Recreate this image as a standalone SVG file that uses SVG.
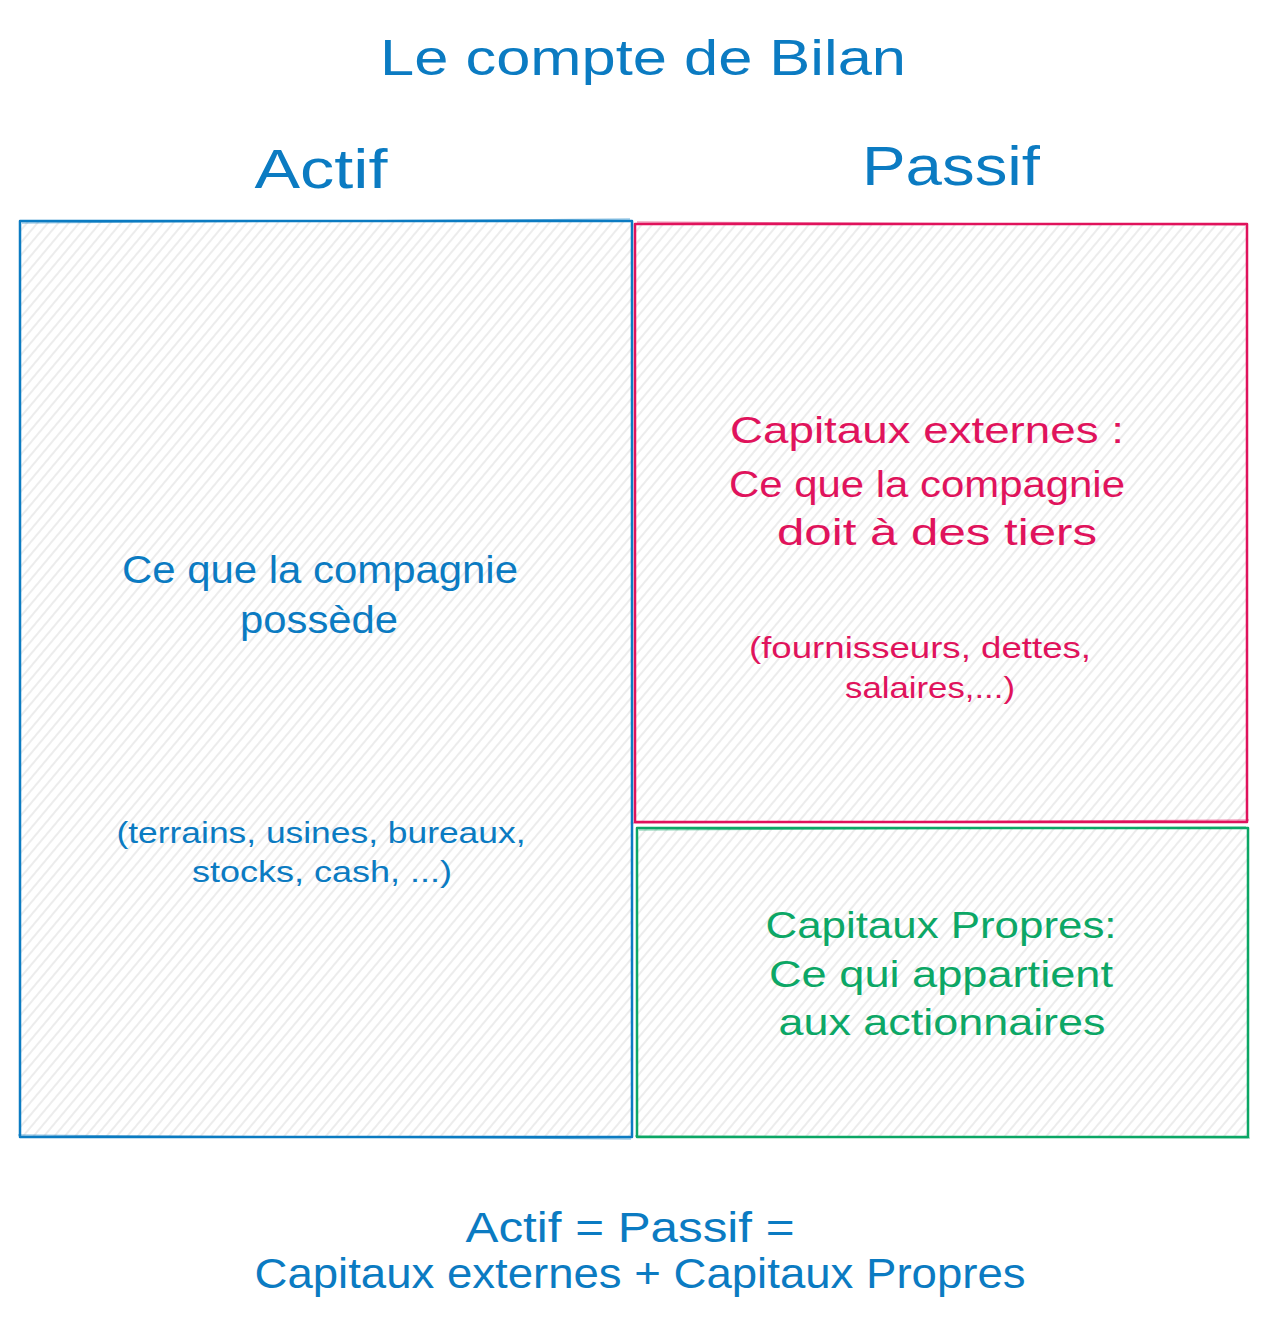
<svg xmlns="http://www.w3.org/2000/svg" width="1269" height="1324" viewBox="0 0 1269 1324">
<defs>
<pattern id="hatch" patternUnits="userSpaceOnUse" width="8" height="8" patternTransform="rotate(40)">
<line x1="4" y1="0" x2="4" y2="8" stroke="#e6e6e6" stroke-width="1.5"/>
</pattern>
</defs>
<style>
text{font-family:"Liberation Sans","Noto Sans",sans-serif;text-anchor:middle}
.blue{fill:#0b7bc2}
.red{fill:#e0135c}
.green{fill:#0ca766}
.box{fill:url(#hatch);stroke-width:2.5;stroke-linejoin:round}
.sk{fill:none;stroke-width:1.2;opacity:.6}
</style>
<rect width="1269" height="1324" fill="#ffffff"/>
<g id="title">
<text class="blue" x="643" y="75" font-size="50" textLength="526" lengthAdjust="spacingAndGlyphs">Le compte de Bilan</text>
</g>
<g id="label-actif">
<text class="blue" x="321" y="188" font-size="56" textLength="133" lengthAdjust="spacingAndGlyphs">Actif</text>
</g>
<g id="label-passif">
<text class="blue" x="951" y="185" font-size="56" textLength="178" lengthAdjust="spacingAndGlyphs">Passif</text>
</g>
<g id="actif">
<rect class="box" x="20" y="221" width="612" height="916" stroke="#0b7bc2"/>
<path class="sk" stroke="#0b7bc2" d="M22 223 L630 219 M18 1135 L631 1139"/>
<text class="blue" x="320" y="583" font-size="38" textLength="396" lengthAdjust="spacingAndGlyphs">Ce que la compagnie</text>
<text class="blue" x="319" y="633" font-size="38" textLength="158" lengthAdjust="spacingAndGlyphs">possède</text>
<text class="blue" x="321" y="843" font-size="29" textLength="409" lengthAdjust="spacingAndGlyphs">(terrains, usines, bureaux,</text>
<text class="blue" x="322" y="882" font-size="29" textLength="260" lengthAdjust="spacingAndGlyphs">stocks, cash, ...)</text>
</g>
<g id="capitaux-externes">
<rect class="box" x="635" y="224" width="612" height="598" stroke="#e0135c"/>
<path class="sk" stroke="#e0135c" d="M637 222 L1245 225 M633 823 L1249 820"/>
<text class="red" x="927" y="443" font-size="37" textLength="394" lengthAdjust="spacingAndGlyphs">Capitaux externes :</text>
<text class="red" x="927" y="497" font-size="37" textLength="396" lengthAdjust="spacingAndGlyphs">Ce que la compagnie</text>
<text class="red" x="937" y="545" font-size="37" textLength="320" lengthAdjust="spacingAndGlyphs">doit à des tiers</text>
<text class="red" x="920" y="658" font-size="29" textLength="342" lengthAdjust="spacingAndGlyphs">(fournisseurs, dettes,</text>
<text class="red" x="930" y="698" font-size="29" textLength="170" lengthAdjust="spacingAndGlyphs">salaires,...)</text>
</g>
<g id="capitaux-propres">
<rect class="box" x="637" y="828" width="611" height="309" stroke="#0ca766"/>
<path class="sk" stroke="#0ca766" d="M639 830 L1246 827 M635 1136 L1250 1138"/>
<text class="green" x="941" y="938" font-size="37" textLength="351" lengthAdjust="spacingAndGlyphs">Capitaux Propres:</text>
<text class="green" x="941" y="987" font-size="37" textLength="344" lengthAdjust="spacingAndGlyphs">Ce qui appartient</text>
<text class="green" x="942" y="1035" font-size="37" textLength="327" lengthAdjust="spacingAndGlyphs">aux actionnaires</text>
</g>
<g id="equation">
<text class="blue" x="630" y="1242" font-size="42" textLength="329" lengthAdjust="spacingAndGlyphs">Actif = Passif =</text>
<text class="blue" x="640" y="1288" font-size="42" textLength="771" lengthAdjust="spacingAndGlyphs">Capitaux externes + Capitaux Propres</text>
</g>
<g id="connectors"></g>
</svg>
